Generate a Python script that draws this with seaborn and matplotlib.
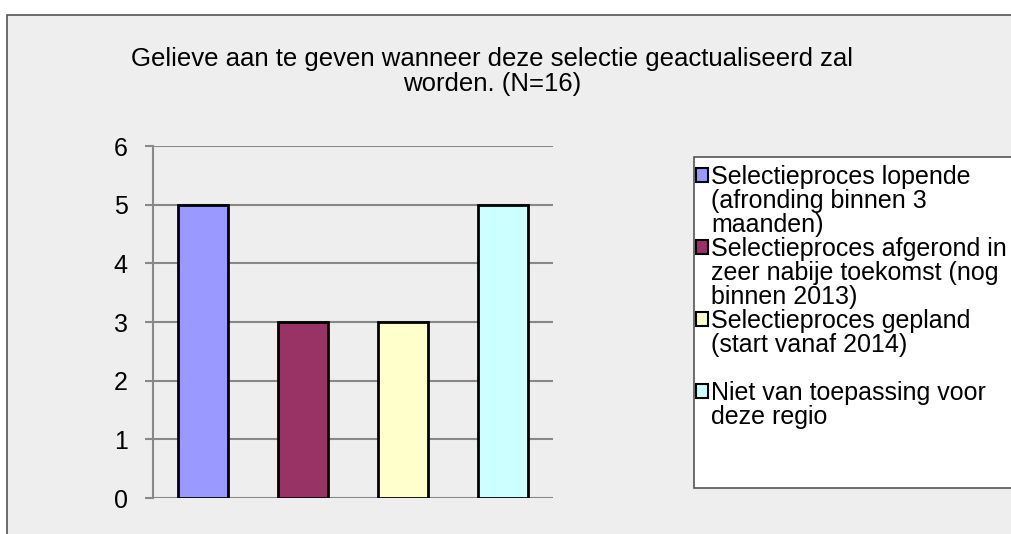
import matplotlib
matplotlib.use('Agg')
import matplotlib.pyplot as plt
import matplotlib.patches as mpatches
from matplotlib import font_manager
import seaborn as sns
import pandas as pd

# data
categories = ['Selectieproces lopende (afronding binnen 3 maanden)',
              'Selectieproces afgerond in zeer nabije toekomst (nog binnen 2013)',
              'Selectieproces gepland (start vanaf 2014)',
              'Niet van toepassing voor deze regio']
legend_lines = [['Selectieproces lopende', '(afronding binnen 3', 'maanden)'],
                ['Selectieproces afgerond in', 'zeer nabije toekomst (nog', 'binnen 2013)'],
                ['Selectieproces gepland', '(start vanaf 2014)', ''],
                ['Niet van toepassing voor', 'deze regio']]
counts = [5, 3, 3, 5]
colors = ['#9999FF', '#993366', '#FFFFCC', '#CCFFFF']
title = 'Gelieve aan te geven wanneer deze selectie geactualiseerd zal\nworden. (N=16)'

names = {f.name for f in font_manager.fontManager.ttflist}
narrow = 'Liberation Sans Narrow' if 'Liberation Sans Narrow' in names else 'Liberation Sans'

sns.set_style('white')
plt.rcParams['font.family'] = ['Liberation Sans', 'DejaVu Sans']
plt.rcParams['text.color'] = 'black'

W, H = 1012, 534
fig = plt.figure(figsize=(W / 100, H / 100), dpi=100)
fig.patch.set_facecolor('white')

# grey chart area
bg = mpatches.Rectangle((7 / W, -0.05), 1.1, (H - 15) / H + 0.05,
                        transform=fig.transFigure, facecolor='#eeeeee',
                        edgecolor='#555555', linewidth=1.2, zorder=-5)
fig.patches.append(bg)

ax = fig.add_axes([152.7 / W, 36 / H, 400 / W, 352 / H])
ax.set_facecolor('none')

df = pd.DataFrame({'cat': categories, 'n': counts})
sns.barplot(data=df, x='cat', y='n', hue='cat', palette=colors, saturation=1,
            edgecolor='black', linewidth=2, width=0.5, legend=False, ax=ax, zorder=3)

ax.set_xlim(-0.5, 3.5)
ax.set_ylim(0, 6)
ax.set_yticks(range(7))
ax.set_xticks([])
ax.set_xlabel('')
ax.set_ylabel('')
for s in ['top', 'right', 'bottom']:
    ax.spines[s].set_visible(False)
ax.spines['left'].set_color('#888888')
ax.spines['left'].set_linewidth(1.5)
ax.yaxis.grid(True, color='#888888', linewidth=1.5)
ax.set_axisbelow(True)
ax.tick_params(axis='y', length=6, width=1.5, color='#888888', pad=12,
               labelsize=18, labelcolor='black', left=True)

fig.text(0.486, 1 - 47 / H, title, ha='center', va='top', fontsize=18.5,
         family=[narrow, 'DejaVu Sans'], linespacing=1.05, color='black')

# legend frame
frame = mpatches.Rectangle((694 / W, 1 - 488 / H), 0.5, (488 - 157) / H,
                           transform=fig.transFigure, facecolor='white',
                           edgecolor='#555555', linewidth=1.2, zorder=-4)
fig.patches.append(frame)

handles, labels = [], []
for col, lines in zip(colors, legend_lines):
    for i, line in enumerate(lines):
        if i == 0:
            handles.append(mpatches.Patch(facecolor=col, edgecolor='black', linewidth=1.5))
        else:
            handles.append(mpatches.Patch(facecolor='none', edgecolor='none'))
        labels.append(line)

leg = fig.legend(handles, labels, loc='upper left', bbox_to_anchor=(696 / W, 1 - 165 / H),
                 frameon=False, fontsize=18, handlelength=0.48, handleheight=0.48,
                 handletextpad=0.12, labelspacing=0.0, borderpad=0, borderaxespad=0)
for t in leg.get_texts():
    t.set_color('black')

fig.savefig('out.png', dpi=100)
